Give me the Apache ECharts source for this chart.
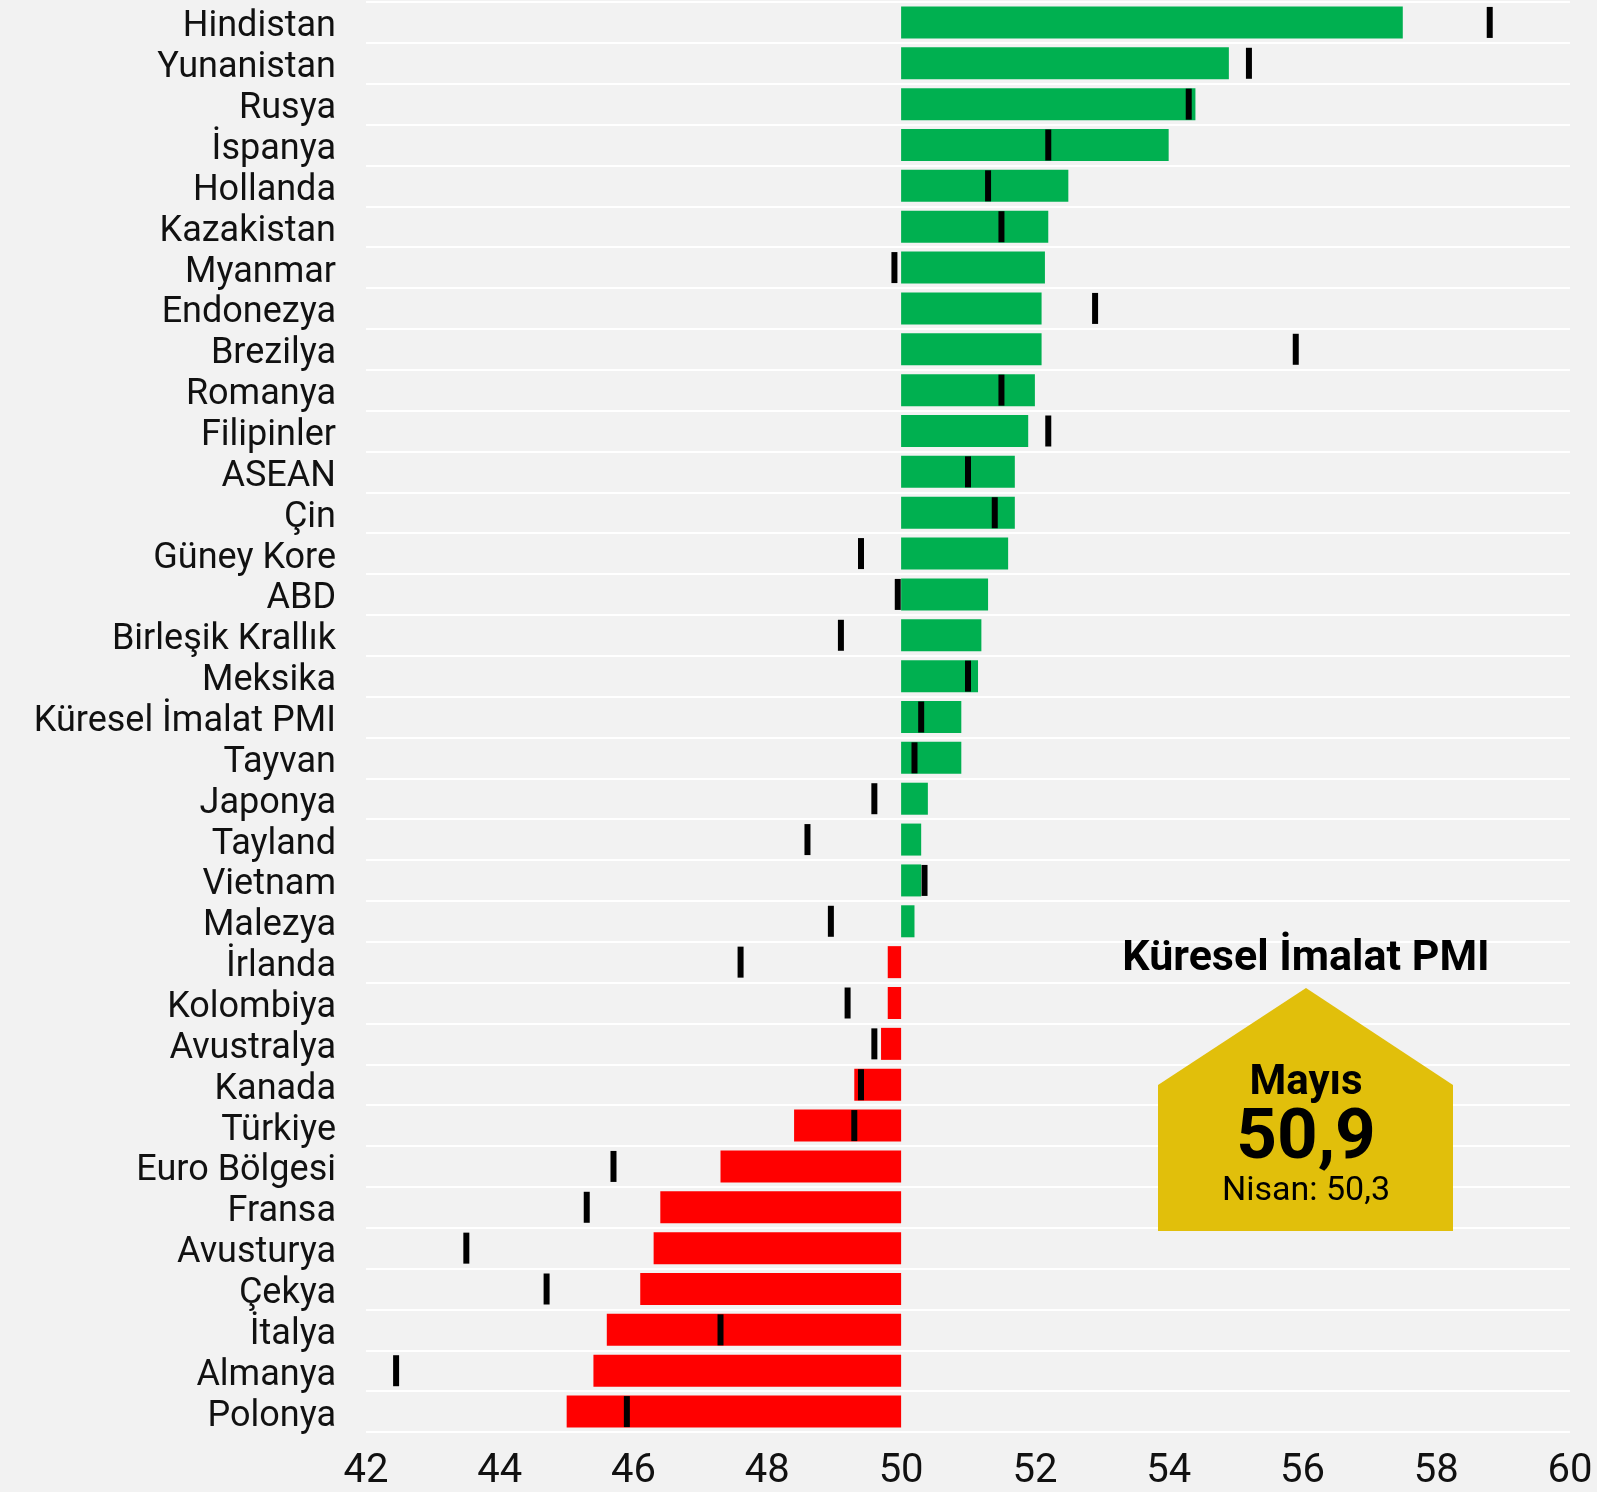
<!DOCTYPE html>
<html>
<head>
<meta charset="utf-8">
<title>Küresel İmalat PMI</title>
<script src="https://cdn.jsdelivr.net/npm/echarts@6/dist/echarts.min.js"></script>
<style>
  html, body { margin: 0; padding: 0; background: #f2f2f2; }
  #pmi_bar { width: 1597px; height: 1492px; }
</style>
</head>
<body>
<div id="pmi_bar"></div>
<script>
// ülkeler (yukarıdan aşağıya)
var ulkeler = ['Hindistan', 'Yunanistan', 'Rusya', 'İspanya', 'Hollanda', 'Kazakistan', 'Myanmar',
  'Endonezya', 'Brezilya', 'Romanya', 'Filipinler', 'ASEAN', 'Çin', 'Güney Kore', 'ABD',
  'Birleşik Krallık', 'Meksika', 'Küresel İmalat PMI', 'Tayvan', 'Japonya', 'Tayland', 'Vietnam',
  'Malezya', 'İrlanda', 'Kolombiya', 'Avustralya', 'Kanada', 'Türkiye', 'Euro Bölgesi', 'Fransa',
  'Avusturya', 'Çekya', 'İtalya', 'Almanya', 'Polonya'];

// Mayıs değerleri (çubuklar)
var mayis = [57.5, 54.9, 54.4, 54.0, 52.5, 52.2, 52.15, 52.1, 52.1, 52.0, 51.9, 51.7, 51.7, 51.6, 51.3,
  51.2, 51.15, 50.9, 50.9, 50.4, 50.3, 50.3, 50.2, 49.8, 49.8, 49.7, 49.3, 48.4, 47.3, 46.4,
  46.3, 46.1, 45.6, 45.4, 45.0];

// Nisan değerleri (siyah çizgiler)
var nisan = [58.8, 55.2, 54.3, 52.2, 51.3, 51.5, 49.9, 52.9, 55.9, 51.5, 52.2, 51.0, 51.4, 49.4, 49.95,
  49.1, 51.0, 50.3, 50.2, 49.6, 48.6, 50.35, 48.95, 47.6, 49.2, 49.6, 49.4, 49.3, 45.7, 45.3,
  43.5, 44.7, 47.3, 42.45, 45.9];

var esik = 50;
var eksenMin = 42, eksenMax = 60, eksenAdim = 2;

var yesil = '#00b050', kirmizi = '#ff0000';

var myChart = echarts.init(document.getElementById('pmi_bar'));

var option = {
    backgroundColor: '#f2f2f2',
    animation: false,
    textStyle: { fontFamily: 'Roboto' },
    grid: {
        left: 366,
        right: 27,
        top: 2,
        bottom: 56,
        containLabel: false
    },
    xAxis: {
        type: 'value',
        min: eksenMin,
        max: eksenMax,
        interval: eksenAdim,
        axisLine: { show: false },
        axisTick: { show: false },
        splitLine: { show: false },
        axisLabel: {
            margin: 20,
            fontSize: 40,
            color: '#111',
            fontFamily: 'Roboto'
        }
    },
    yAxis: {
        type: 'category',
        inverse: true,
        data: ulkeler,
        axisLine: { show: false },
        axisTick: { show: false },
        splitLine: {
            show: true,
            interval: 0,
            lineStyle: { color: '#ffffff', width: 2 }
        },
        axisLabel: {
            interval: 0,
            margin: 30,
            fontSize: 36,
            color: '#111',
            fontFamily: 'Roboto',
            verticalAlign: 'top',
            lineHeight: 10
        }
    },
    series: [
        {
            // görünmez taban
            name: 'taban',
            type: 'bar',
            stack: 'pmi',
            silent: true,
            barWidth: 32,
            itemStyle: { color: 'rgba(0,0,0,0)' },
            data: mayis.map(function (v) { return Math.min(v, esik); })
        },
        {
            name: 'Mayıs',
            type: 'bar',
            stack: 'pmi',
            barWidth: 32,
            data: mayis.map(function (v) {
                return {
                    value: Math.abs(v - esik),
                    itemStyle: { color: v >= esik ? yesil : kirmizi }
                };
            })
        },
        {
            name: 'Nisan',
            type: 'scatter',
            symbol: 'rect',
            symbolSize: [6, 31],
            z: 5,
            itemStyle: { color: '#000', opacity: 1 },
            data: nisan.map(function (v, i) { return [v, i]; })
        }
    ],
    graphic: [
        {
            type: 'text',
            x: 1306,
            y: 959,
            z: 10,
            style: {
                text: 'Küresel İmalat PMI',
                font: 'bold 43px Roboto',
                fill: '#000',
                textAlign: 'center',
                textVerticalAlign: 'middle'
            }
        },
        {
            type: 'polygon',
            z: 9,
            shape: {
                points: [[1306, 988], [1453, 1085], [1453, 1231], [1158, 1231], [1158, 1085]]
            },
            style: { fill: '#e1bf0b' }
        },
        {
            type: 'text',
            x: 1306,
            y: 1083,
            z: 10,
            style: {
                text: 'Mayıs',
                font: 'bold 42px Roboto',
                fill: '#000',
                textAlign: 'center',
                textVerticalAlign: 'middle'
            }
        },
        {
            type: 'text',
            x: 1306,
            y: 1140,
            z: 10,
            style: {
                text: '50,9',
                font: 'bold 71px Roboto',
                fill: '#000',
                textAlign: 'center',
                textVerticalAlign: 'middle'
            }
        },
        {
            type: 'text',
            x: 1306,
            y: 1191,
            z: 10,
            style: {
                text: 'Nisan: 50,3',
                font: '34px Roboto',
                fill: '#000',
                textAlign: 'center',
                textVerticalAlign: 'middle'
            }
        }
    ]
};

myChart.setOption(option);
</script>
</body>
</html>
